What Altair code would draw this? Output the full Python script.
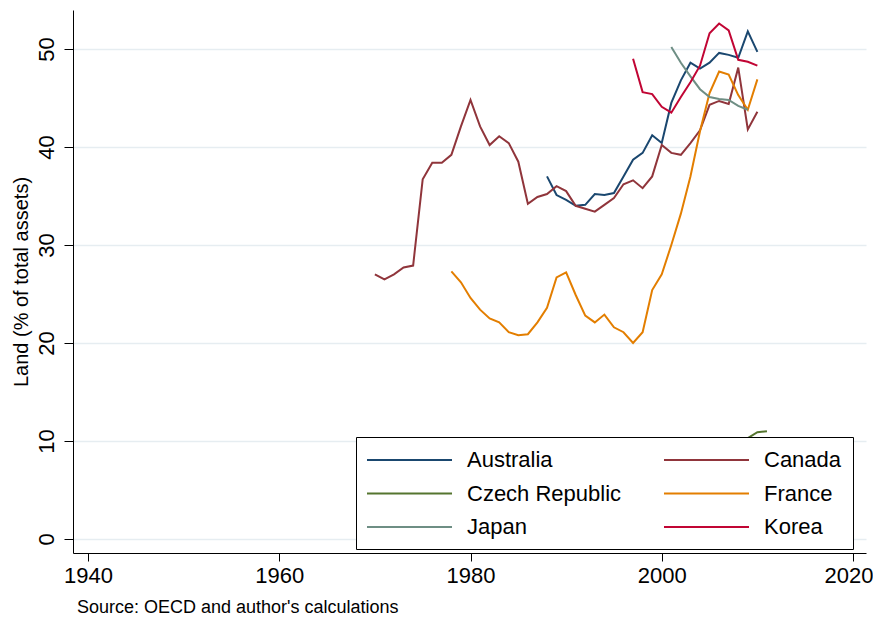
import altair as alt
import pandas as pd

FONT = "Liberation Sans"

# legend fills column by column
countries = ["Australia", "Czech Republic", "Japan", "Canada", "France", "Korea"]
colors = ["#1a476f", "#55752f", "#6e8e84", "#90353b", "#e37e00", "#c10534"]

aus_years = list(range(1988, 2011))
aus_vals = [37.0, 35.1, 34.6, 34.0, 34.1, 35.2, 35.1, 35.3, 37.0, 38.7, 39.4, 41.2,
            40.4, 44.5, 46.8, 48.6, 48.0, 48.6, 49.6, 49.4, 49.1, 51.8, 49.7]

can_years = list(range(1970, 2011))
can_vals = [27.0, 26.5, 27.0, 27.7, 27.9, 36.7, 38.4, 38.4, 39.2, 42.1,
            44.8, 42.1, 40.2, 41.1, 40.4, 38.5, 34.2, 34.9, 35.2, 36.0,
            35.5, 34.0, 33.7, 33.4, 34.1, 34.8, 36.2, 36.6, 35.8, 37.0,
            40.2, 39.4, 39.2, 40.4, 41.7, 44.3, 44.7, 44.4, 48.1, 41.8, 43.6]

cze_years = [2008, 2009, 2010, 2011]
cze_vals = [9.8, 10.3, 10.9, 11.0]

fra_years = list(range(1978, 2011))
fra_vals = [27.3, 26.2,
            24.6, 23.4, 22.5, 22.1, 21.1, 20.8, 20.9, 22.1, 23.6, 26.7,
            27.2, 24.9, 22.8, 22.1, 22.9, 21.6, 21.1, 20.0, 21.1, 25.4,
            27.0, 30.0, 33.2, 37.0, 41.6, 45.5, 47.7, 47.4, 45.3, 43.8, 46.9]

jpn_years = list(range(2001, 2010))
jpn_vals = [50.2, 48.6, 47.2, 45.9, 45.1, 44.9, 44.8, 44.2, 43.8]

kor_years = list(range(1997, 2011))
kor_vals = [49.0, 45.6, 45.4, 44.1, 43.5, 45.1, 46.6, 48.3, 51.6, 52.6, 51.9, 48.9, 48.7, 48.3]

x_ticks = [1940, 1960, 1980, 2000, 2020]
y_ticks = [0, 10, 20, 30, 40, 50]

series = [
    ("Australia", aus_years, aus_vals),
    ("Canada", can_years, can_vals),
    ("Czech Republic", cze_years, cze_vals),
    ("France", fra_years, fra_vals),
    ("Japan", jpn_years, jpn_vals),
    ("Korea", kor_years, kor_vals),
]
rows = []
for name, ys, vs in series:
    for yr, v in zip(ys, vs):
        rows.append({"country": name, "year": yr, "value": v})
df = pd.DataFrame(rows)

chart = alt.Chart(df).mark_line(strokeWidth=2).encode(
    x=alt.X("year:Q",
            scale=alt.Scale(domain=[1938.43, 2021.36], nice=False, zero=False),
            axis=alt.Axis(values=x_ticks, format="d", title=None, grid=False,
                          domainColor="black", domainWidth=1,
                          tickColor="black", tickSize=8, tickWidth=1,
                          labelFont=FONT, labelFontSize=22, labelColor="black",
                          labelFlush=14, labelFlushOffset=20, labelPadding=4)),
    y=alt.Y("value:Q",
            scale=alt.Scale(domain=[-1.43, 53.98], nice=False, zero=False),
            axis=alt.Axis(values=y_ticks, title="Land (% of total assets)", grid=True,
                          gridColor="#e6edf1", gridWidth=1.5,
                          domainColor="black", domainWidth=1,
                          tickColor="black", tickSize=9, tickWidth=1,
                          labelFont=FONT, labelFontSize=22, labelColor="black",
                          labelAngle=270, labelAlign="center", labelBaseline="bottom",
                          labelFlush=False, labelPadding=6,
                          titleFont=FONT, titleFontSize=20, titleColor="black",
                          titleFontWeight="normal", titlePadding=4)),
    color=alt.Color("country:N",
                    scale=alt.Scale(domain=countries, range=colors),
                    legend=alt.Legend(orient="none", legendX=283, legendY=427,
                                      columns=2, title=None,
                                      symbolType="M-3.864,0H3.864",
                                      symbolSize=484, symbolStrokeWidth=2,
                                      symbolOffset=30.5,
                                      labelFont=FONT, labelFontSize=22, labelColor="black",
                                      labelOffset=45.5, columnPadding=37, rowPadding=10.5,
                                      padding=11, fillColor="white", strokeColor="black",
                                      zindex=1)),
).properties(
    width=793, height=543,
    autosize=alt.AutoSizeParams(type="none"),
    padding={"left": 65, "top": 2, "right": 7, "bottom": 63},
    title=alt.TitleParams(text="Source: OECD and author's calculations", orient="bottom",
                          anchor="start", frame="group", fontSize=18, font=FONT,
                          fontWeight="normal", color="black", dx=4, offset=13),
).configure_view(stroke=None)

chart.save("out.html", embed_options={"renderer": "svg", "actions": False})
